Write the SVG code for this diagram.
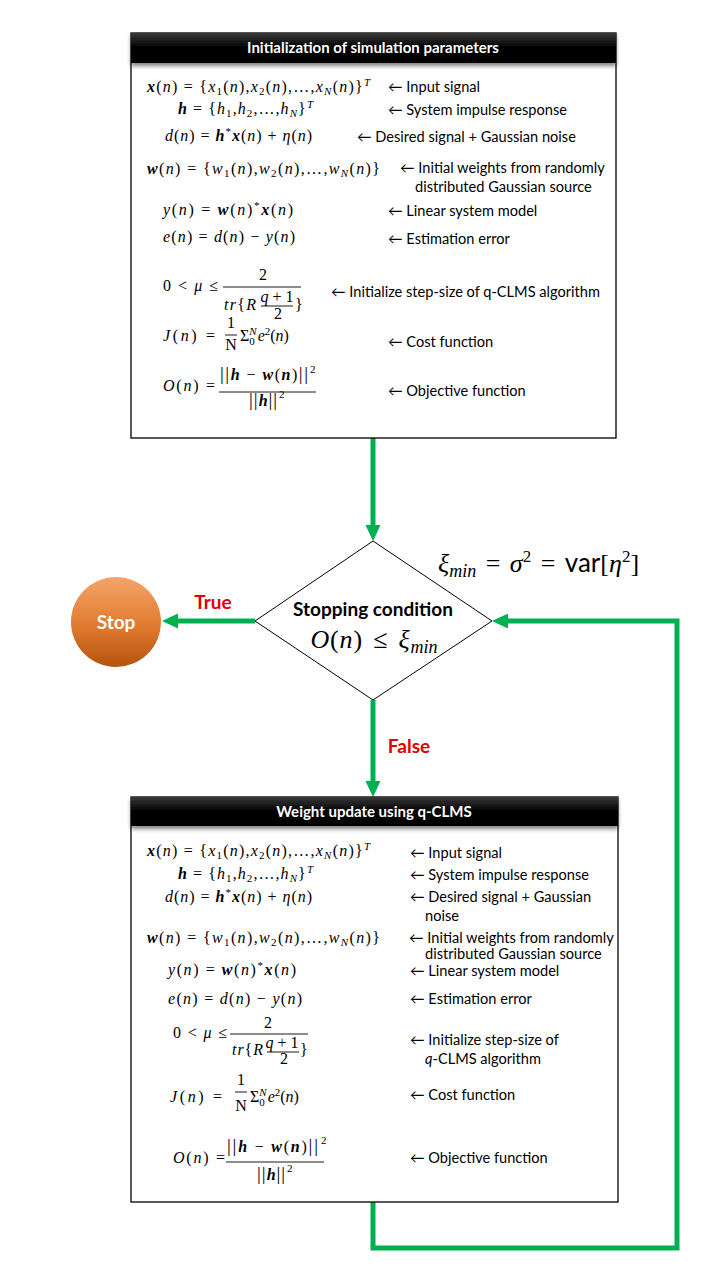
<svg xmlns="http://www.w3.org/2000/svg" width="720" height="1280" viewBox="0 0 720 1280">
<defs>
<style>
.box{fill:#fff;stroke:#000;stroke-width:1.3}
.hdr{fill:url(#hg)}
.ht{font-family:Lato,"Liberation Sans",sans-serif;font-weight:bold;font-size:15px;fill:#fff;text-anchor:middle}
.lb{font-family:Lato,"Liberation Sans","DejaVu Sans",sans-serif;font-size:14.6px;fill:#000}
.m{font-family:"Liberation Serif","DejaVu Serif",serif;font-size:16px;fill:#000}
.i{font-style:italic}
.b{font-style:italic;font-weight:bold}
.s{font-size:11px}
.bar{stroke:#000;stroke-width:0.9}
.g{fill:none;stroke:#00B050;stroke-width:5}
.red{font-family:Lato,"Liberation Sans",sans-serif;font-weight:bold;font-size:19px;fill:#E00000;text-anchor:middle}
</style>
<linearGradient id="hg" x1="0" y1="0" x2="0" y2="1">
<stop offset="0" stop-color="#3a3a3a"/>
<stop offset="0.5" stop-color="#000"/>
<stop offset="1" stop-color="#000"/>
</linearGradient>
<linearGradient id="og" x1="0" y1="0" x2="0" y2="1">
<stop offset="0" stop-color="#F5A46A"/>
<stop offset="0.55" stop-color="#E07A2E"/>
<stop offset="1" stop-color="#B4530F"/>
</linearGradient>
<filter id="sh" x="-5%" y="-20%" width="110%" height="160%">
<feGaussianBlur in="SourceAlpha" stdDeviation="2"/>
<feOffset dy="3"/>
<feComponentTransfer><feFuncA type="linear" slope="0.5"/></feComponentTransfer>
<feMerge><feMergeNode/><feMergeNode in="SourceGraphic"/></feMerge>
</filter>
<marker id="ah" viewBox="0 0 16 15" markerWidth="16" markerHeight="15" refX="6" refY="7.5" orient="auto" markerUnits="userSpaceOnUse">
<path d="M0,0 L16,7.5 L0,15 z" fill="#00B050"/>
</marker>
</defs>

<g id="connectors">
<line class="g" x1="373" y1="438" x2="373" y2="531" marker-end="url(#ah)"/>
<line class="g" x1="255" y1="621" x2="172" y2="621" marker-end="url(#ah)"/>
<line class="g" x1="373" y1="700" x2="373" y2="787" marker-end="url(#ah)"/>
<path class="g" d="M373,1202 V1248 H677 V621 H502" marker-end="url(#ah)"/>
<text class="red" x="213" y="609">True</text>
<text class="red" x="409" y="753">False</text>
</g>

<g id="init">
<rect class="box" x="131" y="33" width="485" height="405"/>
<rect class="hdr" x="131" y="33" width="485" height="30" filter="url(#sh)"/>
<text class="ht" x="373" y="53">Initialization of simulation parameters</text>

<text class="m" x="147" y="92" textLength="223" lengthAdjust="spacing"><tspan class="b">x</tspan>(<tspan class="i">n</tspan>) = {<tspan class="i">x</tspan><tspan class="s" dy="3">1</tspan><tspan dy="-3">(</tspan><tspan class="i">n</tspan>),<tspan class="i">x</tspan><tspan class="s" dy="3">2</tspan><tspan dy="-3">(</tspan><tspan class="i">n</tspan>),…,<tspan class="i">x</tspan><tspan class="s i" dy="3">N</tspan><tspan dy="-3">(</tspan><tspan class="i">n</tspan>)}<tspan class="s i" dy="-6">T</tspan></text>
<text class="lb" x="388" y="92">← Input signal</text>

<text class="m" x="178" y="114" textLength="135" lengthAdjust="spacing"><tspan class="b">h</tspan> = {<tspan class="i">h</tspan><tspan class="s" dy="3">1</tspan><tspan dy="-3">,</tspan><tspan class="i">h</tspan><tspan class="s" dy="3">2</tspan><tspan dy="-3">,…,</tspan><tspan class="i">h</tspan><tspan class="s i" dy="3">N</tspan><tspan dy="-3">}</tspan><tspan class="s i" dy="-6">T</tspan></text>
<text class="lb" x="388" y="115">← System impulse response</text>

<text class="m" x="165" y="141" textLength="147" lengthAdjust="spacing"><tspan class="i">d</tspan>(<tspan class="i">n</tspan>) = <tspan class="b">h</tspan><tspan class="s" dy="-6">*</tspan><tspan class="b" dy="6">x</tspan>(<tspan class="i">n</tspan>) + <tspan class="i">η</tspan>(<tspan class="i">n</tspan>)</text>
<text class="lb" x="357" y="142">← Desired signal + Gaussian noise</text>

<text class="m" x="147" y="174" textLength="233" lengthAdjust="spacing"><tspan class="b">w</tspan>(<tspan class="i">n</tspan>) = {<tspan class="i">w</tspan><tspan class="s" dy="3">1</tspan><tspan dy="-3">(</tspan><tspan class="i">n</tspan>),<tspan class="i">w</tspan><tspan class="s" dy="3">2</tspan><tspan dy="-3">(</tspan><tspan class="i">n</tspan>),…,<tspan class="i">w</tspan><tspan class="s i" dy="3">N</tspan><tspan dy="-3">(</tspan><tspan class="i">n</tspan>)}</text>
<text class="lb" x="400" y="173">← Initial weights from randomly</text>
<text class="lb" x="415" y="192">distributed Gaussian source</text>

<text class="m" x="163" y="215" textLength="130" lengthAdjust="spacing"><tspan class="i">y</tspan>(<tspan class="i">n</tspan>) = <tspan class="b">w</tspan>(<tspan class="i">n</tspan>)<tspan class="s" dy="-6">*</tspan><tspan class="b" dy="6">x</tspan>(<tspan class="i">n</tspan>)</text>
<text class="lb" x="388" y="216">← Linear system model</text>

<text class="m" x="163" y="242" textLength="132" lengthAdjust="spacing"><tspan class="i">e</tspan>(<tspan class="i">n</tspan>) = <tspan class="i">d</tspan>(<tspan class="i">n</tspan>) − <tspan class="i">y</tspan>(<tspan class="i">n</tspan>)</text>
<text class="lb" x="388" y="244">← Estimation error</text>

<text class="m" x="163" y="291" textLength="55" lengthAdjust="spacing">0 &lt; <tspan class="i">μ</tspan> ≤</text>
<text class="m" x="263" y="280" text-anchor="middle">2</text>
<line class="bar" x1="223" y1="287" x2="301" y2="287"/>
<text class="m" x="224" y="310" textLength="32" lengthAdjust="spacing"><tspan class="i">tr</tspan>{<tspan class="i">R</tspan></text>
<text class="m" x="277" y="302" text-anchor="middle"><tspan class="i">q</tspan> + 1</text>
<line class="bar" x1="261" y1="306" x2="293" y2="306"/>
<text class="m" x="278" y="319" text-anchor="middle">2</text>
<text class="m" x="295" y="310">}</text>
<text class="lb" x="331" y="297">← Initialize step-size of q-CLMS algorithm</text>

<text class="m" x="163" y="341" textLength="52" lengthAdjust="spacing"><tspan class="i">J</tspan>(<tspan class="i">n</tspan>) =</text>
<text class="m" x="231" y="328" text-anchor="middle">1</text>
<line class="bar" x1="225" y1="335" x2="237" y2="335"/>
<text class="m" x="231" y="350" text-anchor="middle">N</text>
<text class="m" x="240" y="341">Σ<tspan class="s" dy="4">0</tspan><tspan class="s i" dx="-5.5" dy="-10">N</tspan><tspan class="i" dx="1" dy="6">e</tspan><tspan class="s" dy="-6">2</tspan><tspan dy="6">(</tspan><tspan class="i">n</tspan>)</text>
<text class="lb" x="388" y="347">← Cost function</text>

<text class="m" x="163" y="391" textLength="52" lengthAdjust="spacing"><tspan class="i">O</tspan>(<tspan class="i">n</tspan>) =</text>
<text class="m" x="220" y="380" textLength="88" lengthAdjust="spacing"><tspan font-size="19">|</tspan><tspan font-size="19">|</tspan><tspan class="b">h</tspan> − <tspan class="b">w</tspan>(<tspan class="b">n</tspan>)<tspan font-size="19">|</tspan><tspan font-size="19">|</tspan></text>
<text class="m s" x="310" y="373">2</text>
<line class="bar" x1="219" y1="392" x2="316" y2="392"/>
<text class="m" x="249" y="406"><tspan font-size="19">|</tspan><tspan font-size="19" dx="1">|</tspan><tspan class="b" dx="1">h</tspan><tspan font-size="19" dx="1">|</tspan><tspan font-size="19" dx="1">|</tspan></text>
<text class="m s" x="279" y="398">2</text>
<text class="lb" x="388" y="396">← Objective function</text>
</g>

<g id="decision">
<polygon points="373,541 492,621 373,700 255,621" fill="#fff" stroke="#000" stroke-width="1"/>
<text x="373" y="616" text-anchor="middle" font-family="Lato,'Liberation Sans',sans-serif" font-weight="bold" font-size="19" fill="#000">Stopping condition</text>
<text x="374" y="648" text-anchor="middle" font-family="'Liberation Serif',serif" font-size="26" letter-spacing="0.8" word-spacing="3" fill="#000"><tspan font-style="italic">O</tspan>(<tspan font-style="italic">n</tspan>) ≤ <tspan font-style="italic">ξ</tspan><tspan font-style="italic" font-size="18" letter-spacing="0" dy="5">min</tspan></text>
</g>

<g id="xi-label">
<text x="438" y="572" font-family="'Liberation Serif',serif" font-size="26" word-spacing="3" fill="#000"><tspan font-style="italic">ξ</tspan><tspan font-style="italic" font-size="18" dy="5">min</tspan><tspan dy="-5"> = </tspan><tspan font-style="italic">σ</tspan><tspan font-size="17" dy="-10">2</tspan><tspan dy="10"> = </tspan><tspan font-family="Lato,'Liberation Sans',sans-serif">var</tspan>[<tspan font-style="italic">η</tspan><tspan font-size="17" dy="-10">2</tspan><tspan dy="10">]</tspan></text>
</g>

<g id="stop">
<circle cx="116" cy="622" r="45" fill="url(#og)"/>
<text x="116" y="629" text-anchor="middle" font-family="Lato,'Liberation Sans',sans-serif" font-weight="bold" font-size="19" fill="#fff">Stop</text>
</g>

<g id="update">
<rect class="box" x="131" y="797" width="487" height="405"/>
<rect class="hdr" x="131" y="797" width="487" height="29" filter="url(#sh)"/>
<text class="ht" x="374" y="817">Weight update using q-CLMS</text>

<text class="m" x="147" y="856" textLength="223" lengthAdjust="spacing"><tspan class="b">x</tspan>(<tspan class="i">n</tspan>) = {<tspan class="i">x</tspan><tspan class="s" dy="3">1</tspan><tspan dy="-3">(</tspan><tspan class="i">n</tspan>),<tspan class="i">x</tspan><tspan class="s" dy="3">2</tspan><tspan dy="-3">(</tspan><tspan class="i">n</tspan>),…,<tspan class="i">x</tspan><tspan class="s i" dy="3">N</tspan><tspan dy="-3">(</tspan><tspan class="i">n</tspan>)}<tspan class="s i" dy="-6">T</tspan></text>
<text class="lb" x="410" y="858">← Input signal</text>

<text class="m" x="178" y="879" textLength="135" lengthAdjust="spacing"><tspan class="b">h</tspan> = {<tspan class="i">h</tspan><tspan class="s" dy="3">1</tspan><tspan dy="-3">,</tspan><tspan class="i">h</tspan><tspan class="s" dy="3">2</tspan><tspan dy="-3">,…,</tspan><tspan class="i">h</tspan><tspan class="s i" dy="3">N</tspan><tspan dy="-3">}</tspan><tspan class="s i" dy="-6">T</tspan></text>
<text class="lb" x="410" y="880">← System impulse response</text>

<text class="m" x="165" y="902" textLength="147" lengthAdjust="spacing"><tspan class="i">d</tspan>(<tspan class="i">n</tspan>) = <tspan class="b">h</tspan><tspan class="s" dy="-6">*</tspan><tspan class="b" dy="6">x</tspan>(<tspan class="i">n</tspan>) + <tspan class="i">η</tspan>(<tspan class="i">n</tspan>)</text>
<text class="lb" x="410" y="902">← Desired signal + Gaussian</text>
<text class="lb" x="425" y="921">noise</text>

<text class="m" x="147" y="943" textLength="233" lengthAdjust="spacing"><tspan class="b">w</tspan>(<tspan class="i">n</tspan>) = {<tspan class="i">w</tspan><tspan class="s" dy="3">1</tspan><tspan dy="-3">(</tspan><tspan class="i">n</tspan>),<tspan class="i">w</tspan><tspan class="s" dy="3">2</tspan><tspan dy="-3">(</tspan><tspan class="i">n</tspan>),…,<tspan class="i">w</tspan><tspan class="s i" dy="3">N</tspan><tspan dy="-3">(</tspan><tspan class="i">n</tspan>)}</text>
<text class="lb" x="409" y="943">← Initial weights from randomly</text>
<text class="lb" x="425" y="959">distributed Gaussian source</text>

<text class="m" x="168" y="975" textLength="128" lengthAdjust="spacing"><tspan class="i">y</tspan>(<tspan class="i">n</tspan>) = <tspan class="b">w</tspan>(<tspan class="i">n</tspan>)<tspan class="s" dy="-6">*</tspan><tspan class="b" dy="6">x</tspan>(<tspan class="i">n</tspan>)</text>
<text class="lb" x="410" y="976">← Linear system model</text>

<text class="m" x="168" y="1004" textLength="134" lengthAdjust="spacing"><tspan class="i">e</tspan>(<tspan class="i">n</tspan>) = <tspan class="i">d</tspan>(<tspan class="i">n</tspan>) − <tspan class="i">y</tspan>(<tspan class="i">n</tspan>)</text>
<text class="lb" x="410" y="1004">← Estimation error</text>

<text class="m" x="173" y="1038" textLength="54" lengthAdjust="spacing">0 &lt; <tspan class="i">μ</tspan> ≤</text>
<text class="m" x="268" y="1028" text-anchor="middle">2</text>
<line class="bar" x1="230" y1="1034" x2="308" y2="1034"/>
<text class="m" x="232" y="1055" textLength="31" lengthAdjust="spacing"><tspan class="i">tr</tspan>{<tspan class="i">R</tspan></text>
<text class="m" x="282" y="1048" text-anchor="middle"><tspan class="i">q</tspan> + 1</text>
<line class="bar" x1="267" y1="1052" x2="299" y2="1052"/>
<text class="m" x="284" y="1064" text-anchor="middle">2</text>
<text class="m" x="300" y="1055">}</text>
<text class="lb" x="410" y="1045">← Initialize step-size of</text>
<text class="lb" x="425" y="1064"><tspan font-style="italic">q</tspan>-CLMS algorithm</text>

<text class="m" x="170" y="1102" textLength="52" lengthAdjust="spacing"><tspan class="i">J</tspan>(<tspan class="i">n</tspan>) =</text>
<text class="m" x="241" y="1085" text-anchor="middle">1</text>
<line class="bar" x1="235" y1="1092" x2="247" y2="1092"/>
<text class="m" x="241" y="1111" text-anchor="middle">N</text>
<text class="m" x="250" y="1102">Σ<tspan class="s" dy="4">0</tspan><tspan class="s i" dx="-5.5" dy="-10">N</tspan><tspan class="i" dx="1" dy="6">e</tspan><tspan class="s" dy="-6">2</tspan><tspan dy="6">(</tspan><tspan class="i">n</tspan>)</text>
<text class="lb" x="410" y="1100">← Cost function</text>

<text class="m" x="173" y="1163" textLength="52" lengthAdjust="spacing"><tspan class="i">O</tspan>(<tspan class="i">n</tspan>) =</text>
<text class="m" x="227" y="1152" textLength="91" lengthAdjust="spacing"><tspan font-size="19">|</tspan><tspan font-size="19">|</tspan><tspan class="b">h</tspan>  − <tspan class="b">w</tspan>(<tspan class="b">n</tspan>)<tspan font-size="19">|</tspan><tspan font-size="19">|</tspan></text>
<text class="m s" x="321" y="1144">2</text>
<line class="bar" x1="226" y1="1162" x2="324" y2="1162"/>
<text class="m" x="257" y="1180"><tspan font-size="19">|</tspan><tspan font-size="19" dx="1">|</tspan><tspan class="b" dx="1">h</tspan><tspan font-size="19" dx="1">|</tspan><tspan font-size="19" dx="1">|</tspan></text>
<text class="m s" x="287" y="1172">2</text>
<text class="lb" x="410" y="1163">← Objective function</text>
</g>
</svg>
